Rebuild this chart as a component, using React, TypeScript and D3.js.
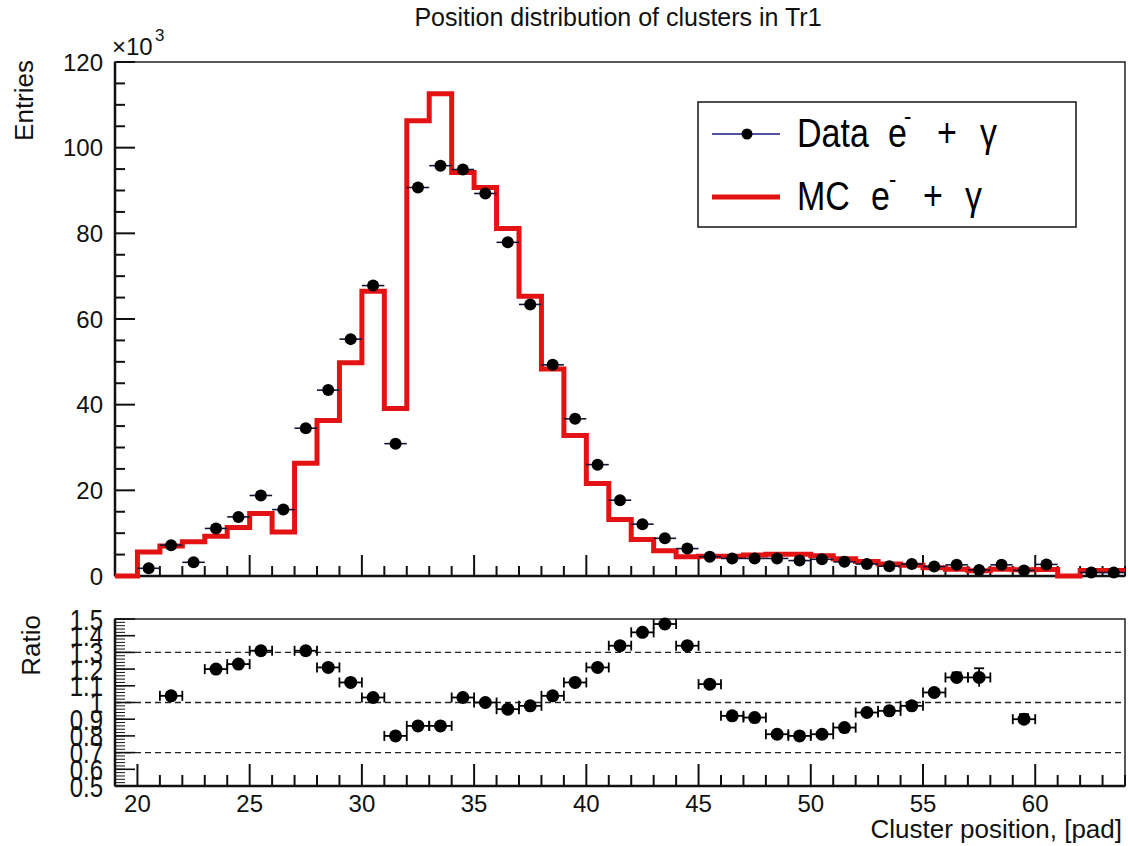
import React from "react";
import * as d3 from "d3";

// ---------- data (values in units of 10^3 entries) ----------
const mcBinLowEdges = [19, 20, 21, 22, 23, 24, 25, 26, 27, 28, 29, 30, 31, 32, 33, 34, 35, 36, 37, 38, 39, 40, 41, 42, 43, 44, 45, 46, 47, 48, 49, 50, 51, 52, 53, 54, 55, 56, 57, 58, 59, 60, 61, 62, 63];
const mcValues = [0, 5.6, 7.0, 8.0, 9.3, 11.3, 14.6, 10.3, 26.3, 36.3, 49.8, 66.5, 39.1, 106.3, 112.6, 94.2, 90.7, 81.1, 65.3, 48.3, 32.8, 21.6, 13.2, 8.5, 5.9, 4.5, 4.6, 4.6, 4.9, 5.1, 5.1, 4.7, 4.0, 3.4, 2.8, 2.5, 1.9, 1.6, 1.2, 1.6, 1.45, 1.5, 0, 1.3, 1.3];

const dataCenters = [20.5, 21.5, 22.5, 23.5, 24.5, 25.5, 26.5, 27.5, 28.5, 29.5, 30.5, 31.5, 32.5, 33.5, 34.5, 35.5, 36.5, 37.5, 38.5, 39.5, 40.5, 41.5, 42.5, 43.5, 44.5, 45.5, 46.5, 47.5, 48.5, 49.5, 50.5, 51.5, 52.5, 53.5, 54.5, 55.5, 56.5, 57.5, 58.5, 59.5, 60.5, 62.5, 63.5];
const dataValues = [1.8, 7.2, 3.2, 11.1, 13.8, 18.8, 15.5, 34.5, 43.4, 55.3, 67.8, 30.9, 90.7, 95.8, 94.9, 89.3, 77.9, 63.4, 49.3, 36.7, 26.0, 17.7, 12.1, 8.8, 6.4, 4.5, 4.1, 4.1, 4.1, 3.6, 3.9, 3.3, 2.8, 2.3, 2.8, 2.2, 2.6, 1.4, 2.6, 1.3, 2.7, 0.8, 0.8];

const ratioCenters = [21.5, 23.5, 24.5, 25.5, 27.5, 28.5, 29.5, 30.5, 31.5, 32.5, 33.5, 34.5, 35.5, 36.5, 37.5, 38.5, 39.5, 40.5, 41.5, 42.5, 43.5, 44.5, 45.5, 46.5, 47.5, 48.5, 49.5, 50.5, 51.5, 52.5, 53.5, 54.5, 55.5, 56.5, 57.5, 59.5];
const ratioValues = [1.04, 1.2, 1.23, 1.31, 1.31, 1.21, 1.12, 1.03, 0.8, 0.86, 0.86, 1.03, 1.0, 0.96, 0.98, 1.04, 1.12, 1.21, 1.34, 1.42, 1.47, 1.34, 1.11, 0.92, 0.91, 0.81, 0.8, 0.81, 0.85, 0.94, 0.95, 0.98, 1.06, 1.15, 1.15, 0.9];
const ratioErrors = [0.01, 0.01, 0.01, 0.01, 0.01, 0.01, 0.01, 0.01, 0.01, 0.01, 0.01, 0.01, 0.01, 0.01, 0.01, 0.01, 0.01, 0.01, 0.01, 0.01, 0.01, 0.01, 0.01, 0.01, 0.01, 0.01, 0.01, 0.01, 0.01, 0.01, 0.01, 0.02, 0.02, 0.03, 0.055, 0.03];

const topYTicks = [0, 20, 40, 60, 80, 100, 120];
const xMajorTicks = [20, 25, 30, 35, 40, 45, 50, 55, 60];
const ratioTickLabels = ["1.5", "1.4", "1.3", "1.2", "1.1", "1", "0.9", "0.8", "0.7", "0.6", "0.5"];
const ratioTickValues = [1.5, 1.4, 1.3, 1.2, 1.1, 1.0, 0.9, 0.8, 0.7, 0.6, 0.5];
const ratioRefLines = [1.3, 1.0, 0.7];

const TITLE = "Position distribution of clusters in Tr1";

export default function App() {
  const FONT = "'Liberation Sans', Arial, Helvetica, sans-serif";
  const RED = "#e41212";
  const WIDTH = 1128;
  const HEIGHT = 846;
  const L = 115;
  const R = 1125;
  const topT = 62;
  const topB = 576;
  const rT = 619;
  const rB = 786;

  const x = d3.scaleLinear().domain([19, 64]).range([L, R]);
  const y = d3.scaleLinear().domain([0, 120]).range([topB, topT]);
  const yr = d3.scaleLinear().domain([0.5, 1.5]).range([rB, rT]);

  const stepPts: [number, number][] = mcBinLowEdges.map((e, i) => [e, mcValues[i]] as [number, number]);
  stepPts.push([64, mcValues[mcValues.length - 1]]);
  const stepPath = d3
    .line<[number, number]>()
    .x((d) => x(d[0]))
    .y((d) => y(d[1]))
    .curve(d3.curveStepAfter)(stepPts) as string;

  const xMinor = d3.range(19, 65, 1).filter((v) => !xMajorTicks.includes(v));
  const yMinorTop = d3.range(0, 121, 5).filter((v) => v % 20 !== 0);
  const rMinor = d3.range(0, 51, 1).map((i) => 0.5 + i * 0.02);

  return (
    <svg
      width={WIDTH}
      height={HEIGHT}
      style={{ position: "absolute", left: 0, top: 0, background: "#fff" }}
      fontFamily={FONT}
    >
      <rect x={0} y={0} width={WIDTH} height={HEIGHT} fill="#fff" />
      <text x={618} y={26} fontSize={25} textAnchor="middle" fill="#111">
        {TITLE}
      </text>

      {/* ---------- top panel ---------- */}
      <rect x={L} y={topT} width={R - L} height={topB - topT} fill="none" stroke="#222" strokeWidth={1.5} />
      <line x1={L} x2={R} y1={topB} y2={topB} stroke="#111" strokeWidth={2.5} />
      <line x1={L} x2={L} y1={topT} y2={topB} stroke="#111" strokeWidth={2.5} />
      {topYTicks.map((v) => (
        <g key={"ty" + v}>
          <line x1={L} x2={L + 20} y1={y(v)} y2={y(v)} stroke="#111" strokeWidth={2} />
          <text x={103} y={y(v)} dy="0.36em" fontSize={24} textAnchor="end" fill="#111">
            {v}
          </text>
        </g>
      ))}
      {yMinorTop.map((v) => (
        <line key={"tym" + v} x1={L} x2={L + 10} y1={y(v)} y2={y(v)} stroke="#111" strokeWidth={2} />
      ))}
      {xMajorTicks.map((v) => (
        <line key={"tx" + v} x1={x(v)} x2={x(v)} y1={topB} y2={topB - 21} stroke="#111" strokeWidth={2} />
      ))}
      {xMinor.map((v) => (
        <line key={"txm" + v} x1={x(v)} x2={x(v)} y1={topB} y2={topB - 10} stroke="#111" strokeWidth={2} />
      ))}
      <text x={112} y={55} fontSize={24} fill="#111">
        ×10
      </text>
      <text x={155} y={41} fontSize={17} fill="#111">
        3
      </text>
      <text transform="translate(33,60) rotate(-90)" fontSize={26} textAnchor="end" fill="#111">
        Entries
      </text>

      <path d={stepPath} fill="none" stroke={RED} strokeWidth={5} strokeLinejoin="miter" />

      {dataCenters.map((c, i) => (
        <g key={"d" + c}>
          <line x1={x(c - 0.5)} x2={x(c + 0.5)} y1={y(dataValues[i])} y2={y(dataValues[i])} stroke="#141438" strokeWidth={1.6} />
          <circle cx={x(c)} cy={y(dataValues[i])} r={6} fill="#000" />
        </g>
      ))}

      {/* legend */}
      <rect x={698} y={102} width={378} height={125} fill="#fff" stroke="#222" strokeWidth={1.6} />
      <line x1={712} x2={780} y1={134} y2={134} stroke="#1a1a80" strokeWidth={1.6} />
      <circle cx={747} cy={134} r={5.5} fill="#000" />
      <line x1={712} x2={780} y1={197} y2={197} stroke={RED} strokeWidth={5} />
      <g transform="translate(797,147) scale(1,1.18)" fill="#000" fontSize={34}>
        <text x={0} y={0}>Data</text>
        <text x={91} y={0}>e</text>
        <text x={107} y={-19} fontSize={22}>-</text>
        <text x={150} y={0} textAnchor="middle">+</text>
        <text x={183} y={0}>γ</text>
      </g>
      <g transform="translate(797,210) scale(1,1.18)" fill="#000" fontSize={34}>
        <text x={0} y={0}>MC</text>
        <text x={74} y={0}>e</text>
        <text x={92} y={-19} fontSize={22}>-</text>
        <text x={136} y={0} textAnchor="middle">+</text>
        <text x={168} y={0}>γ</text>
      </g>

      {/* ---------- ratio panel ---------- */}
      <rect x={L} y={rT} width={R - L} height={rB - rT} fill="none" stroke="#222" strokeWidth={1.5} />
      <line x1={L} x2={R} y1={rB} y2={rB} stroke="#111" strokeWidth={2.5} />
      <line x1={L} x2={L} y1={rT} y2={rB} stroke="#111" strokeWidth={2.5} />
      {ratioRefLines.map((v) => (
        <line key={"ref" + v} x1={L} x2={R} y1={yr(v)} y2={yr(v)} stroke="#222" strokeWidth={1.4} strokeDasharray="6,4" />
      ))}
      {rMinor.map((v, i) => (
        <line key={"rm" + i} x1={L} x2={L + 10} y1={yr(v)} y2={yr(v)} stroke="#111" strokeWidth={1} />
      ))}
      {ratioTickValues.map((v, i) => (
        <g key={"rt" + i}>
          <line x1={L} x2={L + 20} y1={yr(v)} y2={yr(v)} stroke="#111" strokeWidth={1.6} />
          <text
            transform={`translate(103,${yr(v)}) scale(1,1.22)`}
            dy="0.36em"
            fontSize={24}
            textAnchor="end"
            fill="#111"
          >
            {ratioTickLabels[i]}
          </text>
        </g>
      ))}
      {xMajorTicks.map((v) => (
        <g key={"rx" + v}>
          <line x1={x(v)} x2={x(v)} y1={rB} y2={rB - 22} stroke="#111" strokeWidth={2} />
          <text x={x(v)} y={812} fontSize={24} textAnchor="middle" fill="#111">
            {v}
          </text>
        </g>
      ))}
      {xMinor.map((v) => (
        <line key={"rxm" + v} x1={x(v)} x2={x(v)} y1={rB} y2={rB - 11} stroke="#111" strokeWidth={2} />
      ))}
      <text transform="translate(40,615) rotate(-90)" fontSize={26} textAnchor="end" fill="#111">
        Ratio
      </text>
      <text x={1122} y={838} fontSize={26} textAnchor="end" fill="#111">
        Cluster position, [pad]
      </text>

      {ratioCenters.map((c, i) => {
        const cy = yr(ratioValues[i]);
        const x0 = x(c - 0.5);
        const x1 = x(c + 0.5);
        const e = ratioErrors[i];
        return (
          <g key={"r" + c} stroke="#000" strokeWidth={1.8}>
            <line x1={x0} x2={x1} y1={cy} y2={cy} />
            <line x1={x0} x2={x0} y1={cy - 5} y2={cy + 5} />
            <line x1={x1} x2={x1} y1={cy - 5} y2={cy + 5} />
            <line x1={x(c)} x2={x(c)} y1={yr(ratioValues[i] + e)} y2={yr(ratioValues[i] - e)} />
            <line x1={x(c) - 5} x2={x(c) + 5} y1={yr(ratioValues[i] + e)} y2={yr(ratioValues[i] + e)} />
            <circle cx={x(c)} cy={cy} r={6.5} fill="#000" stroke="none" />
          </g>
        );
      })}
    </svg>
  );
}
